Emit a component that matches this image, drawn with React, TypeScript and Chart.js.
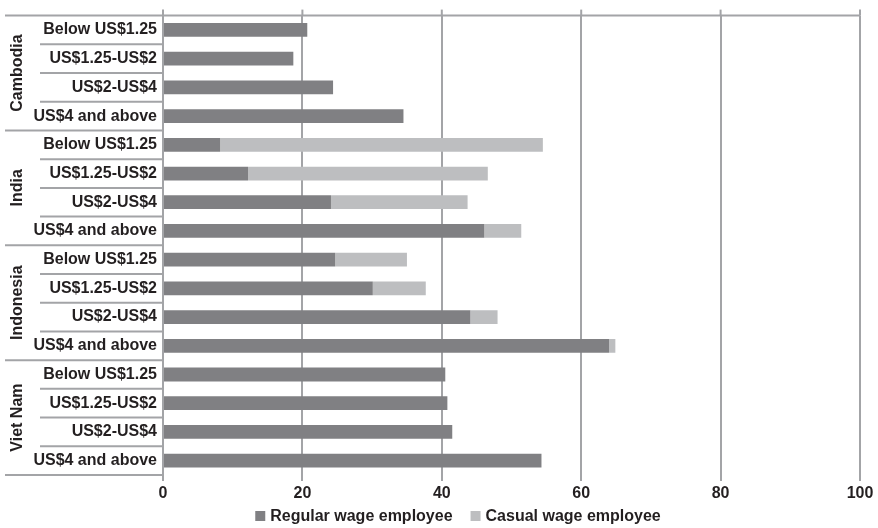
import React, { useEffect, useRef } from "react";
import { Chart, registerables } from "chart.js";

Chart.register(...registerables);

const groups = ["Cambodia", "India", "Indonesia", "Viet Nam"];
const bands = ["Below US$1.25", "US$1.25-US$2", "US$2-US$4", "US$4 and above"];
const regularWage = [20.7, 18.7, 24.4, 34.5, 8.2, 12.2, 24.1, 46.1, 24.7, 30.1, 44.1, 64.0, 40.5, 40.8, 41.5, 54.3];
const casualWage = [0, 0, 0, 0, 46.3, 34.4, 19.6, 5.3, 10.3, 7.6, 3.9, 0.9, 0, 0, 0, 0];
const xTicks = [0, 20, 40, 60, 80, 100];

const FONT = "'Liberation Sans', Arial, Helvetica, sans-serif";
const TEXT = "#231f20";
const LINE = "#a3a4a7";
const REG = "#808083";
const CAS = "#bdbec0";

const groupPlugin = {
  id: "groupPlugin",
  afterDraw(chart: any) {
    const { ctx, chartArea } = chart;
    const y = chart.scales.y;
    const x = chart.scales.x;
    const n = groups.length * bands.length;
    const band = (y.bottom - y.top) / n;
    ctx.save();
    ctx.strokeStyle = LINE;
    ctx.lineWidth = 2;
    for (let i = 0; i <= n; i++) {
      const yy = y.top + i * band;
      const isGroup = i % bands.length === 0;
      const x0 = isGroup ? 5 : 40;
      const x1 = i === 0 ? chartArea.right : chartArea.left;
      ctx.beginPath();
      ctx.moveTo(x0, yy);
      ctx.lineTo(x1, yy);
      ctx.stroke();
    }
    xTicks.forEach((v) => {
      const px = x.getPixelForValue(v);
      ctx.beginPath();
      ctx.moveTo(px, chartArea.top - 6);
      ctx.lineTo(px, chartArea.top);
      ctx.stroke();
    });
    ctx.fillStyle = TEXT;
    ctx.font = `bold 16px ${FONT}`;
    ctx.textAlign = "center";
    ctx.textBaseline = "middle";
    groups.forEach((g, gi) => {
      const cy = y.top + (gi * bands.length + bands.length / 2) * band;
      ctx.save();
      ctx.translate(18, cy);
      ctx.rotate(-Math.PI / 2);
      ctx.fillText(g, 0, 0);
      ctx.restore();
    });
    const items = chart.data.datasets.map((d: any) => ({ text: d.label, color: d.backgroundColor }));
    ctx.font = `bold 16px ${FONT}`;
    const box = 10, gap = 5, itemGap = 18;
    const widths = items.map((it: any) => box + gap + ctx.measureText(it.text).width);
    const total = widths.reduce((a: number, b: number) => a + b, 0) + itemGap * (items.length - 1);
    let lx = 458 - total / 2;
    const ly = 516;
    ctx.textAlign = "left";
    items.forEach((it: any, i: number) => {
      ctx.fillStyle = it.color;
      ctx.fillRect(lx, ly - box / 2, box, box);
      ctx.fillStyle = TEXT;
      ctx.fillText(it.text, lx + box + gap, ly + 1);
      lx += widths[i] + itemGap;
    });
    ctx.restore();
  },
};

export default function App() {
  const ref = useRef<HTMLCanvasElement>(null);
  useEffect(() => {
    if (!ref.current) return;
    const labels: string[] = [];
    groups.forEach(() => bands.forEach((b) => labels.push(b)));
    const chart = new Chart(ref.current, {
      type: "bar",
      data: {
        labels,
        datasets: [
          {
            label: "Regular wage employee",
            data: regularWage,
            backgroundColor: REG,
            barPercentage: 0.48,
            categoryPercentage: 1,
          },
          {
            label: "Casual wage employee",
            data: casualWage,
            backgroundColor: CAS,
            barPercentage: 0.48,
            categoryPercentage: 1,
          },
        ],
      },
      options: {
        indexAxis: "y",
        animation: false,
        responsive: false,
        devicePixelRatio: 1,
        layout: { padding: { left: 0, right: 18, top: 10, bottom: 25 } },
        plugins: {
          tooltip: { enabled: false },
          legend: { display: false },
        },
        scales: {
          x: {
            stacked: true,
            min: 0,
            max: 100,
            afterBuildTicks: (s: any) => {
              s.ticks = xTicks.map((v) => ({ value: v }));
            },
            afterFit: (s: any) => {
              s.height = 28;
            },
            grid: { color: LINE, lineWidth: 2, tickLength: 6, drawTicks: true },
            border: { display: false },
            ticks: {
              color: TEXT,
              padding: 3,
              font: { family: FONT, size: 16, weight: "bold" },
            },
          },
          y: {
            stacked: true,
            grid: { display: false, drawTicks: false, tickLength: 0 },
            border: { display: false },
            afterFit: (s: any) => {
              s.width = 163;
            },
            ticks: {
              color: TEXT,
              padding: 6,
              autoSkip: false,
              font: { family: FONT, size: 16, weight: "bold" },
            },
          },
        },
      },
      plugins: [groupPlugin],
    });
    return () => chart.destroy();
  }, []);
  return (
    <div style={{ position: "absolute", left: 0, top: 0, width: 878, height: 528, background: "#fff" }}>
      <canvas ref={ref} width={878} height={528} />
    </div>
  );
}
